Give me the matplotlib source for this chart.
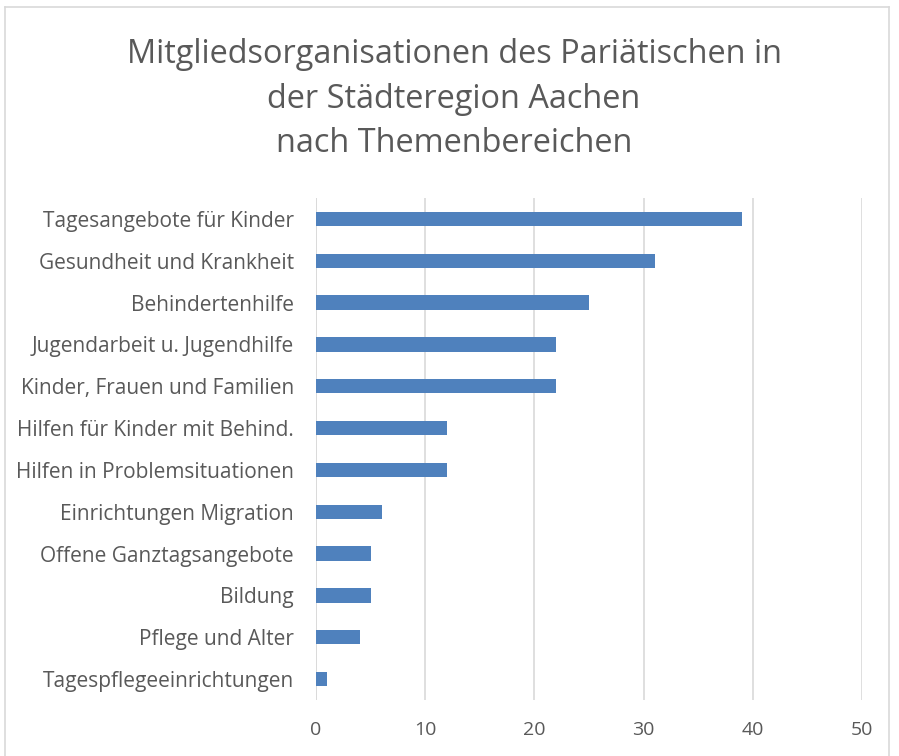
import matplotlib.pyplot as plt
from matplotlib.lines import Line2D

# Data
categories = ['Tagesangebote für Kinder', 'Gesundheit und Krankheit', 'Behindertenhilfe',
              'Jugendarbeit u. Jugendhilfe', 'Kinder, Frauen und Familien',
              'Hilfen für Kinder mit Behind.', 'Hilfen in Problemsituationen',
              'Einrichtungen Migration', 'Offene Ganztagsangebote', 'Bildung',
              'Pflege und Alter', 'Tagespflegeeinrichtungen']
counts = [39, 31, 25, 22, 22, 12, 12, 6, 5, 5, 4, 1]
xticks = [0, 10, 20, 30, 40, 50]

title = 'Mitgliedsorganisationen des Pariätischen in\nder Städteregion Aachen\nnach Themenbereichen'

plt.rcParams['font.family'] = ['Open Sans', 'DejaVu Sans']
text_col = '#595959'
bar_col = '#4F81BD'
grid_col = '#D9D9D9'

W, H = 899, 756
fig = plt.figure(figsize=(W / 100, H / 100), dpi=100)
ax = fig.add_axes([316 / W, 1 - 700 / H, (862 - 316) / W, (700 - 198) / H])

ypos = list(range(len(categories)))
ax.barh(ypos, counts, height=0.34, color=bar_col, zorder=3)
ax.set_ylim(len(categories) - 0.5, -0.5)
ax.set_xlim(0, 50)
ax.set_yticks(ypos)
ax.set_yticklabels(categories, fontsize=15, color=text_col)
ax.set_xticks(xticks)
ax.set_xticklabels([str(t) for t in xticks], fontsize=14, color=text_col)
ax.tick_params(axis='both', length=0)
ax.tick_params(axis='y', pad=16)
ax.tick_params(axis='x', pad=15)
ax.grid(axis='x', color=grid_col, linewidth=1.2, zorder=0)
for s in ax.spines.values():
    s.set_visible(False)
ax.axvline(0, color=grid_col, linewidth=1.2, zorder=2)

fig.text(454 / W, 1 - 99 / H, title, ha='center', va='center', fontsize=23.4,
         color=text_col, linespacing=1.45)

# chart area border
bx0, by0, bx1 = 5 / W, 1 - 7 / H, 889 / W
for xs, ys in [([bx0, bx0], [0, by0]), ([bx0, bx1], [by0, by0]), ([bx1, bx1], [by0, 0])]:
    fig.add_artist(Line2D(xs, ys, transform=fig.transFigure, color=grid_col, linewidth=1.2))

fig.savefig('out.png', dpi=100)
